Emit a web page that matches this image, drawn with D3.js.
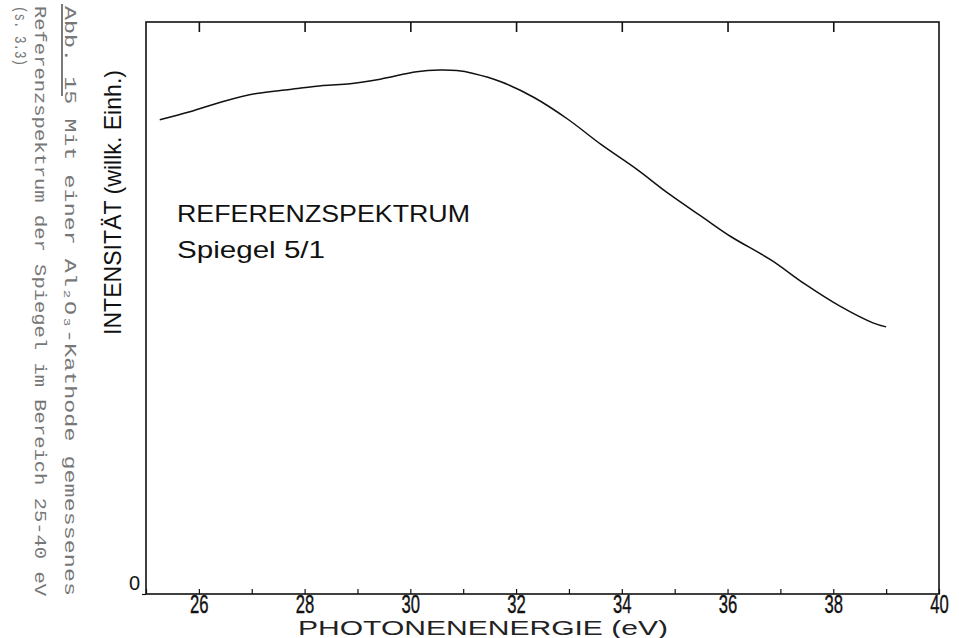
<!DOCTYPE html>
<html>
<head>
<meta charset="utf-8">
<script src="https://cdn.jsdelivr.net/npm/d3@7/dist/d3.min.js"></script>
<style>
  html, body { margin: 0; padding: 0; background: #fff; }
  svg { display: block; }
</style>
</head>
<body>
<script>
// Photon energy (eV) and intensity (arbitrary units) of the reference spectrum
const energy = [25.26, 25.83, 26.46, 27.09, 27.72, 28.35, 28.86, 29.43, 30.12, 30.56, 30.88, 31.19, 31.70, 32.34, 32.98, 33.62, 34.26, 34.90, 35.54, 36.06, 36.82, 37.46, 38.11, 38.75, 39.00];
const intensity = [82.9, 84.3, 86.1, 87.5, 88.2, 88.9, 89.2, 90.0, 91.3, 91.6, 91.5, 91.0, 89.6, 86.8, 83.0, 78.5, 74.4, 69.9, 65.8, 62.5, 58.4, 54.2, 50.4, 47.4, 46.7];

// Axis ticks
const minorTicks = d3.range(25, 41, 1);
const labelTicks = [26, 28, 30, 32, 34, 36, 38, 40];
const topTicks = [26, 28, 30, 32, 34, 36, 38];
const yTicks = [0];

// Texts
const yTitle = "INTENSITÄT (willk. Einh.)";
const xTitle = "PHOTONENENERGIE (eV)";
const noteLines = ["REFERENZSPEKTRUM", "Spiegel 5/1"];
const captionLines = [
  "Abb. 15  Mit einer Al\u2082O\u2083-Kathode gemessenes",
  "Referenzspektrum der Spiegel im Bereich 25-40 eV",
  "(s. 3.3)"
];

const W = 959, H = 638;
const m = { left: 146, top: 22, right: 20, bottom: 44 };
const innerW = W - m.left - m.right;   // 793
const innerH = H - m.top - m.bottom;   // 572

const svg = d3.select("body").append("svg")
  .attr("width", W).attr("height", H)
  .attr("viewBox", `0 0 ${W} ${H}`);

const x = d3.scaleLinear().domain([25, 40]).range([0, innerW]);
const y = d3.scaleLinear().domain([0, 100]).range([innerH, 0]);

const g = svg.append("g").attr("transform", `translate(${m.left},${m.top})`);

const ink = "#111";
const numFont = "'Liberation Sans', 'DejaVu Sans', sans-serif";

// Frame
g.append("rect")
  .attr("x", 0).attr("y", 0).attr("width", innerW).attr("height", innerH)
  .attr("fill", "none").attr("stroke", ink).attr("stroke-width", 1.6);

// Bottom axis: a short tick every eV, numbers at the even values
const xAxis = d3.axisBottom(x)
  .tickValues(minorTicks)
  .tickSizeInner(-5).tickSizeOuter(0)
  .tickPadding(0)
  .tickFormat(d => labelTicks.includes(d) ? d : "");
const gx = g.append("g").attr("transform", `translate(0,${innerH})`).call(xAxis);
gx.select(".domain").remove();
gx.selectAll(".tick line").attr("stroke", ink).attr("stroke-width", 1.2);
gx.selectAll(".tick text")
  .attr("fill", ink)
  .attr("font-family", numFont)
  .attr("font-size", 26)
  .attr("stroke", ink).attr("stroke-width", 0.4)
  .attr("y", 0).attr("dy", "0.72em")
  .attr("transform", "translate(0,0.5) scale(0.64,1)");

// Top axis: longer ticks pointing into the plot
const xTop = d3.axisTop(x)
  .tickValues(topTicks)
  .tickSizeInner(-10).tickSizeOuter(0)
  .tickFormat("");
const gt = g.append("g").call(xTop);
gt.select(".domain").remove();
gt.selectAll(".tick line").attr("stroke", ink).attr("stroke-width", 1.6);

// Left axis: only the zero mark
const yAxis = d3.axisLeft(y)
  .tickValues(yTicks)
  .tickSizeInner(4).tickSizeOuter(0)
  .tickPadding(2);
const gy = g.append("g").call(yAxis);
gy.select(".domain").remove();
gy.selectAll(".tick line").attr("stroke", ink).attr("stroke-width", 1.2);
gy.selectAll(".tick text")
  .attr("fill", ink)
  .attr("font-family", numFont)
  .attr("font-size", 20)
  .attr("dy", "-0.25em");

// Spectrum curve
const pts = energy.map((e, i) => [e, intensity[i]]);
const line = d3.line()
  .x(d => x(d[0]))
  .y(d => y(d[1]))
  .curve(d3.curveCatmullRom.alpha(0.5));
g.append("path")
  .datum(pts)
  .attr("d", line)
  .attr("fill", "none")
  .attr("stroke", ink)
  .attr("stroke-width", 1.5);

// Annotation inside the plot
g.append("text")
  .attr("x", 31).attr("y", 200)
  .attr("font-family", numFont).attr("font-size", 24)
  .attr("fill", ink)
  .attr("textLength", 293).attr("lengthAdjust", "spacingAndGlyphs")
  .text(noteLines[0]);
g.append("text")
  .attr("x", 31).attr("y", 236)
  .attr("font-family", numFont).attr("font-size", 24)
  .attr("fill", ink)
  .attr("textLength", 148).attr("lengthAdjust", "spacingAndGlyphs")
  .text(noteLines[1]);

// Axis titles
svg.append("text")
  .attr("transform", "translate(121,335) rotate(-90)")
  .attr("font-family", numFont).attr("font-size", 24)
  .attr("fill", ink)
  .attr("textLength", 265).attr("lengthAdjust", "spacingAndGlyphs")
  .text(yTitle);

svg.append("text")
  .attr("x", 298).attr("y", 634.5)
  .attr("font-family", numFont).attr("font-size", 20)
  .attr("fill", "#222")
  .attr("textLength", 370).attr("lengthAdjust", "spacingAndGlyphs")
  .text(xTitle);

// Figure caption typed along the left margin, reading downwards
const capX = [65, 35, 15];
const capLen = [590, 590, 60];
captionLines.forEach((t, i) => {
  svg.append("text")
    .attr("transform", `translate(${capX[i]},6) rotate(90)`)
    .attr("font-family", "'Liberation Mono', 'DejaVu Sans Mono', monospace")
    .attr("font-size", 17)
    .attr("fill", "#777")
    .attr("textLength", capLen[i]).attr("lengthAdjust", "spacingAndGlyphs")
    .text(t);
});
// underline of the figure number
svg.append("line")
  .attr("x1", 62).attr("x2", 62).attr("y1", 4).attr("y2", 96)
  .attr("stroke", "#333").attr("stroke-width", 1.3);
</script>
</body>
</html>
